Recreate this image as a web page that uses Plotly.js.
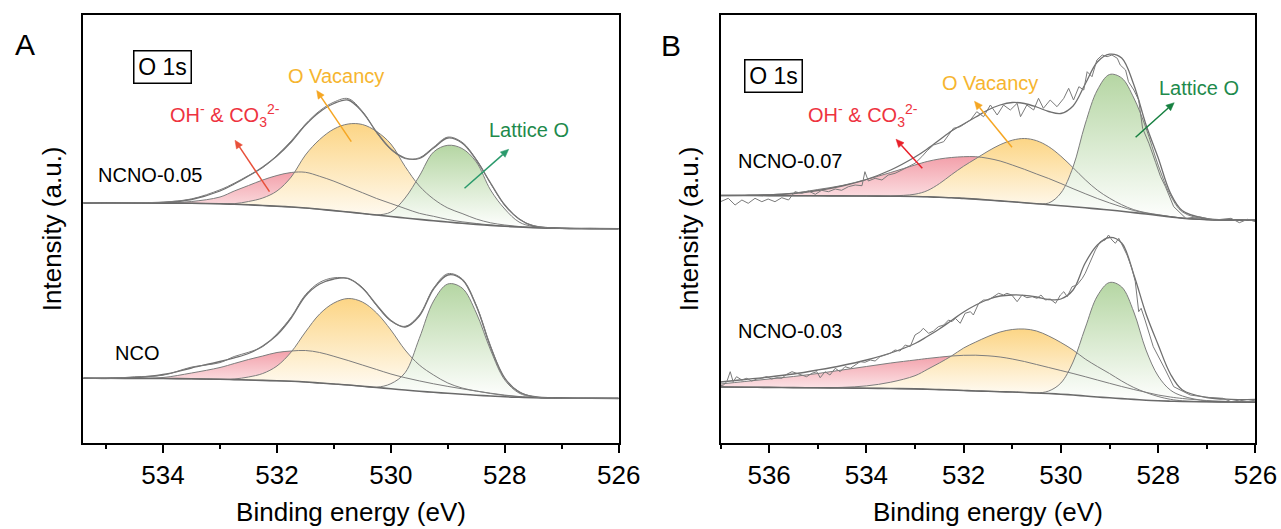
<!DOCTYPE html>
<html>
<head>
<meta charset="utf-8">
<script src="https://cdn.plot.ly/plotly-3.0.1.min.js"></script>
<style>
html,body{margin:0;padding:0;background:#fff;}
#chart{width:1281px;height:529px;}
</style>
</head>
<body>
<div id="chart"></div>
<script>
// ---------------- DATA (binding energy in eV, intensity in a.u.) ----------------
// Panel A common energy grid for the fitted curves
const energyA = [535.4, 535.0, 534.5, 534.0, 533.5, 533.0, 532.75, 532.5, 532.25, 532.0, 531.75, 531.5, 531.25, 531.0, 530.75, 530.5, 530.25, 530.0, 529.75, 529.5, 529.25, 529.0, 528.75, 528.5, 528.25, 528.0, 527.75, 527.5, 527.0, 526.5, 526.0];

// NCNO-0.05 (panel A, upper)
const ncno005Bg  = [239.7, 239.7, 239.7, 239.6, 239.4, 238.9, 238.4, 237.9, 237.2, 236.5, 235.7, 234.7, 233.4, 232.1, 230.7, 229.2, 227.7, 226.2, 224.7, 223.3, 221.9, 220.7, 219.4, 218.3, 217.3, 216.4, 215.7, 215.1, 214.4, 214.1, 214.0];
const ncno005OH  = [239.7, 239.7, 239.7, 239.9, 241.2, 245.7, 251.7, 257.2, 262.7, 267.2, 270.2, 270.4, 266.4, 261.5, 255.7, 250.0, 244.2, 239.2, 234.2, 229.4, 226.4, 223.2, 220.9, 219.2, 217.7, 216.6, 215.8, 215.1, 214.4, 214.1, 214.0];
const ncno005Vac = [239.7, 239.7, 239.7, 239.6, 239.4, 239.1, 239.0, 241.2, 244.7, 251.7, 265.7, 287.7, 303.2, 313.7, 318.7, 318.2, 311.2, 298.7, 276.2, 256.7, 243.7, 234.7, 229.2, 223.7, 219.9, 217.7, 216.2, 215.3, 214.4, 214.1, 214.0];
const ncno005Lat = [239.7, 239.7, 239.7, 239.6, 239.4, 238.9, 238.4, 237.9, 237.2, 236.5, 235.7, 234.7, 233.4, 232.1, 230.7, 229.2, 227.8, 230.7, 244.7, 266.7, 290.7, 297.4, 294.2, 280.7, 252.7, 233.7, 220.7, 216.2, 214.4, 214.1, 214.0];
const ncno005Fit = [239.7, 239.7, 239.7, 240.2, 243.2, 251.7, 258.7, 266.7, 275.7, 286.7, 300.7, 317.7, 330.7, 339.2, 342.7, 330.7, 310.7, 293.7, 284.7, 284.2, 294.7, 304.7, 299.7, 282.7, 259.7, 237.7, 223.7, 216.7, 214.4, 214.1, 214.0];
const ncno005Raw = [240.2, 239.4, 239.9, 240.6, 243.8, 252.9, 259.5, 267.2, 275.1, 287.4, 301.8, 318.5, 331.9, 340.6, 344.1, 331.4, 309.9, 293.2, 284.1, 284.9, 295.6, 305.6, 300.5, 283.2, 259.1, 237.2, 223.9, 217.2, 214.1, 214.3, 213.8];

// NCO (panel A, lower)
const ncoBg  = [64.4, 64.4, 64.3, 64.2, 63.9, 63.4, 63.1, 62.7, 62.3, 61.9, 61.4, 60.7, 59.7, 58.7, 57.7, 56.4, 55.2, 53.9, 52.7, 51.5, 50.4, 49.4, 48.4, 47.5, 46.7, 45.9, 45.4, 45.0, 44.6, 44.4, 44.3];
const ncoOH  = [64.4, 64.4, 64.5, 65.2, 69.7, 75.2, 79.2, 83.2, 86.7, 90.2, 91.7, 92.2, 90.2, 86.4, 82.2, 77.7, 73.2, 68.7, 65.0, 61.8, 58.9, 56.3, 53.9, 51.6, 49.5, 47.6, 46.2, 45.3, 44.6, 44.4, 44.3];
const ncoVac = [64.4, 64.4, 64.3, 64.2, 63.9, 63.4, 63.7, 65.7, 69.2, 76.7, 90.7, 110.7, 128.7, 139.7, 144.2, 140.7, 129.7, 112.7, 92.7, 77.7, 67.7, 59.7, 54.7, 51.7, 49.2, 47.2, 45.9, 45.2, 44.6, 44.4, 44.3];
const ncoLat = [64.4, 64.4, 64.3, 64.2, 63.9, 63.4, 63.1, 62.7, 62.3, 61.9, 61.4, 60.7, 59.7, 58.7, 57.7, 56.4, 55.5, 59.0, 70.0, 104.4, 141.7, 158.7, 154.7, 129.7, 92.7, 62.7, 49.7, 45.7, 44.6, 44.4, 44.3];
const ncoFit = [64.4, 64.4, 65.2, 68.2, 74.7, 81.2, 84.9, 89.2, 96.7, 107.7, 124.7, 146.7, 158.7, 163.7, 164.4, 154.7, 137.7, 122.2, 115.7, 126.7, 153.7, 167.7, 163.2, 136.7, 95.7, 64.7, 50.7, 46.2, 44.6, 44.4, 44.3];
const ncoRaw = [64.9, 64.0, 65.9, 67.5, 75.6, 80.1, 86.2, 90.4, 96.1, 108.9, 125.8, 148.0, 160.3, 164.9, 164.0, 155.3, 137.0, 121.6, 116.4, 127.9, 154.6, 169.0, 163.9, 137.5, 96.8, 64.1, 51.2, 46.0, 44.4, 44.6, 44.1];

// Panel B common energy grid for the fitted curves
const energyB = [537, 536.5, 536, 535.5, 535, 534.5, 534, 533.5, 533, 532.75, 532.5, 532.25, 532, 531.75, 531.5, 531.25, 531, 530.75, 530.5, 530.25, 530, 529.75, 529.5, 529.25, 529, 528.75, 528.5, 528.25, 528, 527.75, 527.5, 527, 526.5, 526];

// NCNO-0.07 (panel B, upper)
const ncno007Bg  = [247.2, 247.2, 247.1, 247.0, 246.9, 246.8, 246.7, 246.5, 246.2, 245.9, 245.4, 245.0, 244.3, 243.6, 242.7, 241.8, 240.9, 239.9, 239.0, 238.0, 237.0, 236.0, 234.9, 233.8, 232.7, 231.5, 230.1, 228.7, 227.2, 225.7, 224.4, 223.1, 222.7, 222.5];
const ncno007OH  = [247.2, 247.4, 248.0, 249.5, 253.2, 257.2, 263.2, 270.2, 277.7, 281.2, 283.7, 285.2, 286.0, 286.0, 284.4, 281.7, 277.7, 273.4, 268.7, 264.2, 259.2, 254.0, 249.0, 244.2, 239.8, 235.8, 232.2, 229.6, 227.8, 226.1, 224.6, 223.1, 222.7, 222.5];
const ncno007Vac = [247.2, 247.2, 247.1, 247.0, 246.9, 246.8, 246.7, 246.8, 248.5, 252.0, 259.0, 268.0, 276.5, 284.0, 291.5, 298.0, 302.5, 304.2, 302.0, 296.0, 286.5, 275.0, 263.0, 252.5, 244.5, 238.0, 233.0, 230.0, 228.0, 226.2, 224.6, 223.1, 222.7, 222.5];
const ncno007Lat = [247.2, 247.2, 247.1, 247.0, 246.9, 246.8, 246.7, 246.5, 246.2, 245.9, 245.4, 245.0, 244.3, 243.6, 242.7, 241.8, 240.9, 239.9, 239.0, 239.7, 249.7, 275.7, 318.7, 352.7, 368.2, 364.7, 344.7, 314.7, 277.7, 247.7, 230.7, 223.4, 222.7, 222.5];
const ncno007Fit = [247.2, 247.4, 247.9, 249.2, 252.2, 256.7, 263.2, 272.7, 285.7, 293.7, 302.7, 311.7, 318.7, 325.7, 332.7, 337.7, 340.2, 339.2, 335.7, 331.2, 329.2, 336.7, 358.7, 380.7, 388.5, 384.7, 358.0, 318.0, 285.0, 250.0, 232.0, 224.0, 222.8, 222.5];
const ncno007RawE = [537.0, 536.84, 536.70, 536.56, 536.43, 536.29, 536.15, 536.02, 535.88, 535.74, 535.60, 535.47, 535.33, 535.19, 535.05, 534.92, 534.78, 534.64, 534.51, 534.37, 534.23, 534.09, 534.03, 533.96, 533.82, 533.68, 533.55, 533.41, 533.27, 533.13, 533.00, 532.86, 532.75, 532.62, 532.41, 532.21, 532.07, 531.86, 531.73, 531.59, 531.45, 531.31, 531.18, 531.04, 530.90, 530.83, 530.70, 530.56, 530.46, 530.36, 530.22, 530.08, 529.94, 529.84, 529.74, 529.63, 529.53, 529.46, 529.36, 529.26, 529.15, 529.05, 528.95, 528.84, 528.78, 528.67, 528.61, 528.50, 528.40, 528.32, 528.19, 528.05, 527.95, 527.85, 527.68, 527.43, 527.17, 526.83, 526.50, 526.33, 526.16, 526.0];
const ncno007Raw  = [241, 244.4, 237.7, 242.7, 239.4, 244.4, 241, 243.7, 241, 245, 242.7, 251, 249.4, 251.7, 248.4, 252.4, 251, 253.7, 252.4, 256, 257.7, 257, 271, 261.7, 264.4, 262.7, 267.7, 269.4, 272.7, 276, 279.4, 286, 292, 297.7, 301, 314.4, 316, 322.7, 331, 326, 337.7, 327.7, 337.7, 332.7, 339.4, 326, 337.7, 332.7, 344.4, 334.4, 342.7, 336, 344.4, 354.4, 342.7, 356, 352.7, 371, 366, 382.7, 387.7, 386, 387.7, 384.4, 377.7, 372.7, 361, 352.7, 342.7, 314.4, 299.4, 280, 266, 256, 236, 224.4, 226, 222.7, 224.4, 220, 223.4, 221];

// NCNO-0.03 (panel B, lower)
const ncno003Bg  = [55.7, 55.5, 55.3, 55.1, 54.9, 54.7, 54.5, 54.2, 53.8, 53.5, 53.1, 52.7, 52.2, 51.7, 51.4, 51.0, 50.7, 50.2, 49.7, 49.2, 48.5, 47.7, 46.7, 45.7, 44.9, 44.1, 43.3, 42.5, 41.9, 41.5, 41.2, 40.9, 40.7, 40.5];
const ncno003OH  = [58.7, 61.2, 63.7, 66.2, 69.2, 72.7, 76.2, 79.7, 82.7, 84.2, 85.5, 86.7, 87.4, 87.5, 86.9, 85.7, 83.7, 81.2, 78.2, 75.2, 72.2, 69.2, 66.0, 62.7, 59.4, 56.2, 53.2, 50.4, 47.7, 45.7, 44.2, 42.2, 41.2, 40.7];
const ncno003Vac = [55.7, 55.5, 55.3, 55.1, 54.9, 55.3, 56.8, 60.5, 67.0, 73.2, 79.7, 86.7, 94.7, 100.7, 106.2, 110.7, 113.2, 113.7, 111.7, 106.7, 100.2, 92.7, 83.7, 76.2, 69.2, 61.7, 55.2, 50.2, 46.2, 43.4, 41.9, 40.9, 40.7, 40.5];
const ncno003Lat = [55.7, 55.5, 55.3, 55.1, 54.9, 54.7, 54.5, 54.2, 53.8, 53.5, 53.1, 52.7, 52.2, 51.7, 51.4, 51.0, 50.7, 50.2, 49.7, 51.7, 59.7, 80.7, 114.7, 146.7, 160.2, 155.7, 130.7, 92.7, 66.7, 52.7, 46.7, 41.7, 40.7, 40.5];
const ncno003Fit = [60.7, 63.2, 65.7, 68.7, 72.7, 77.2, 82.7, 89.7, 99.2, 106.2, 113.7, 122.2, 130.7, 137.7, 143.2, 146.7, 147.7, 147.4, 145.7, 143.2, 143.7, 152.7, 179.7, 197.7, 205.2, 199.7, 168.0, 129.0, 98.0, 69.0, 52.7, 45.2, 43.4, 43.2];
const ncno003RawE = [536.99, 536.94, 536.87, 536.80, 536.74, 536.67, 536.56, 536.46, 536.36, 536.25, 536.15, 536.05, 535.95, 535.84, 535.74, 535.64, 535.53, 535.43, 535.33, 535.23, 535.12, 535.02, 534.95, 534.85, 534.75, 534.64, 534.54, 534.44, 534.33, 534.23, 534.13, 534.03, 533.92, 533.82, 533.72, 533.61, 533.51, 533.41, 533.31, 533.20, 533.10, 533.00, 532.89, 532.83, 532.72, 532.62, 532.52, 532.41, 532.31, 532.24, 532.17, 532.07, 531.97, 531.86, 531.80, 531.69, 531.59, 531.49, 531.38, 531.28, 531.18, 531.11, 531.01, 530.90, 530.80, 530.70, 530.59, 530.49, 530.41, 530.32, 530.22, 530.11, 530.01, 529.94, 529.87, 529.77, 529.67, 529.56, 529.50, 529.43, 529.36, 529.29, 529.19, 529.09, 529.02, 528.95, 528.88, 528.81, 528.74, 528.64, 528.54, 528.47, 528.40, 528.35, 528.27, 528.10, 527.85, 527.68, 527.34, 527.00, 526.67, 526.50, 526.33, 526.16, 526.0];
const ncno003Raw  = [57.0, 57.7, 61, 71, 61, 66, 62.7, 64.4, 61.7, 63.7, 64.4, 66, 63.7, 65, 64.4, 68.4, 71, 69.4, 67.7, 66, 69.4, 71, 65, 71, 67.7, 74.4, 71, 76, 74.4, 77.7, 81, 80.4, 82.7, 81.7, 86, 87.7, 89.4, 92.7, 91.7, 97.7, 96, 107.7, 111, 114.4, 109.4, 111.7, 116, 117.7, 122.7, 121, 124.4, 119.4, 129.4, 131, 127.7, 139.4, 142.7, 142.7, 146, 149.4, 147.7, 149.4, 147.7, 141, 147.7, 145, 146, 144.4, 147.7, 142.7, 143.7, 139.4, 147.7, 151, 146, 156, 157.7, 164.4, 169.4, 177.7, 184.4, 192.7, 201, 202.7, 207.7, 202.7, 199.4, 204.4, 197.7, 187.7, 174.4, 161, 131, 134.4, 122.7, 96, 72.7, 56, 47.7, 45.4, 44.4, 41, 42.7, 41, 42.7];

// Axis ticks
const tickValsA = [534, 532, 530, 528, 526];
const minorValsA = [535, 533, 531, 529, 527];
const tickValsB = [536, 534, 532, 530, 528, 526];
const minorValsB = [537, 535, 533, 531, 529, 527];

// Labels
const sampleLabels = ['NCNO-0.05', 'NCO', 'NCNO-0.07', 'NCNO-0.03'];
const peakLabels = ['OH<sup>-</sup> & CO<sub>3</sub><sup>2-</sup>', 'O Vacancy', 'Lattice O'];

// ---------------- STYLE ----------------
const W = 1281, H = 529;
const fx = x => x / W;
const fy = y => 1 - y / H;
const FONT = 'Liberation Sans, Arial, Helvetica, sans-serif';
const FILL = {oh: '#f3a0aa', vac: '#fcd585', lat: '#b5d6a3'};

function spectrum(xa, ya, E, bg, comps, fit, rawE, raw, rawShape) {
  const base = {xaxis: xa, yaxis: ya, hoverinfo: 'skip', showlegend: false, mode: 'lines'};
  const t = [];
  comps.forEach(c => {
    t.push(Object.assign({}, base, {x: E, y: bg, line: {width: 0, shape: 'spline', color: 'rgba(0,0,0,0)'}}));
    t.push(Object.assign({}, base, {x: E, y: c.y, line: {width: 0, shape: 'spline', color: 'rgba(0,0,0,0)'},
      fill: 'tonexty', fillcolor: c.color,
      fillgradient: {type: 'vertical', colorscale: [[0, '#ffffff'], [1, c.color]]}}));
  });
  comps.forEach(c => t.push(Object.assign({}, base, {x: E, y: c.y, line: {color: '#7d7d7d', width: 1, shape: 'spline'}})));
  t.push(Object.assign({}, base, {x: E, y: bg, line: {color: '#6a6a6a', width: 1.6, shape: 'spline'}}));
  t.push(Object.assign({}, base, {x: E, y: fit, line: {color: '#6f6f6f', width: 1.3, shape: 'spline'}}));
  t.push(Object.assign({}, base, {x: rawE, y: raw, line: {color: '#7a7a7a', width: 1, shape: rawShape}}));
  return t;
}

const traces = [].concat(
  spectrum('x', 'y', energyA, ncno005Bg,
    [{y: ncno005OH, color: FILL.oh}, {y: ncno005Vac, color: FILL.vac}, {y: ncno005Lat, color: FILL.lat}],
    ncno005Fit, energyA, ncno005Raw, 'spline'),
  spectrum('x', 'y', energyA, ncoBg,
    [{y: ncoOH, color: FILL.oh}, {y: ncoVac, color: FILL.vac}, {y: ncoLat, color: FILL.lat}],
    ncoFit, energyA, ncoRaw, 'spline'),
  spectrum('x2', 'y2', energyB, ncno007Bg,
    [{y: ncno007OH, color: FILL.oh}, {y: ncno007Vac, color: FILL.vac}, {y: ncno007Lat, color: FILL.lat}],
    ncno007Fit, ncno007RawE, ncno007Raw, 'linear'),
  spectrum('x2', 'y2', energyB, ncno003Bg,
    [{y: ncno003OH, color: FILL.oh}, {y: ncno003Vac, color: FILL.vac}, {y: ncno003Lat, color: FILL.lat}],
    ncno003Fit, ncno003RawE, ncno003Raw, 'linear')
);

const frame = {showline: true, linecolor: '#000', linewidth: 2, mirror: true, showgrid: false, zeroline: false};
function xAxis(domain, range, ticks, minor, anchor) {
  return Object.assign({}, frame, {
    domain: domain, range: range, autorange: false, anchor: anchor,
    tickmode: 'array', tickvals: ticks, ticktext: ticks.map(String),
    ticks: 'outside', ticklen: 8, tickwidth: 2, tickcolor: '#000',
    tickfont: {family: FONT, size: 26, color: '#000'},
    minor: {tickmode: 'array', tickvals: minor, ticks: 'outside', ticklen: 4, tickwidth: 2, tickcolor: '#000'},
    title: {text: 'Binding energy (eV)', font: {family: FONT, size: 26, color: '#000'}, standoff: 14}
  });
}
function yAxis(anchor) {
  return Object.assign({}, frame, {
    domain: [fy(442.7), fy(15)], range: [0, 427.7], autorange: false, anchor: anchor,
    showticklabels: false, ticks: '',
    title: {text: 'Intensity (a.u.)', font: {family: FONT, size: 26, color: '#000'}, standoff: 12}
  });
}

function label(text, x, y, size, color, xanchor) {
  return {text: text, x: fx(x), y: fy(y), xref: 'paper', yref: 'paper', showarrow: false,
    xanchor: xanchor || 'center', yanchor: 'middle', font: {family: FONT, size: size, color: color}};
}
function box(text, x, y) {
  return {text: text, x: fx(x), y: fy(y), xref: 'paper', yref: 'paper', showarrow: false,
    width: 53, height: 28, borderpad: 1.5, borderwidth: 1.5, bordercolor: '#000', bgcolor: '#fff',
    font: {family: FONT, size: 23, color: '#000'}};
}
// arrows drawn as a line shape plus a filled triangular head (pixel geometry -> paper coords)
function arrowShapes(tx, ty, hx, hy, color) {
  const dx = hx - tx, dy = hy - ty, len = Math.hypot(dx, dy);
  const ux = dx / len, uy = dy / len, L = 8, hw = 3.6;
  const bx = hx - ux * L, by = hy - uy * L;
  const p1 = [bx - uy * hw, by + ux * hw], p2 = [bx + uy * hw, by - ux * hw];
  return [
    {type: 'line', xref: 'paper', yref: 'paper', x0: fx(tx), y0: fy(ty), x1: fx(bx), y1: fy(by),
      line: {color: color, width: 1.5}},
    {type: 'path', xref: 'paper', yref: 'paper',
      path: 'M ' + fx(hx) + ' ' + fy(hy) + ' L ' + fx(p1[0]) + ' ' + fy(p1[1]) + ' L ' + fx(p2[0]) + ' ' + fy(p2[1]) + ' Z',
      fillcolor: color, line: {color: color, width: 0.5}}
  ];
}

const RED = '#ee3340', ORANGE = '#f6b530', GREEN = '#1e8a4c';
const annotations = [
  label('A', 24.6, 44.5, 30, '#000'),
  label('B', 670.8, 45.5, 30, '#000'),
  box('O 1s', 133.4, 49.7),
  box('O 1s', 773.3, 59.5),
  label(sampleLabels[0], 149.7, 175, 20, '#000'),
  label(sampleLabels[1], 136.7, 352.5, 20, '#000'),
  label(sampleLabels[2], 789.5, 160.8, 20, '#000'),
  label(sampleLabels[3], 789.5, 330.8, 20, '#000'),
  label(peakLabels[0], 168, 116, 20, RED, 'left'),
  label(peakLabels[1], 336.3, 75.5, 20, ORANGE),
  label(peakLabels[2], 528.8, 130, 20, GREEN),
  label(peakLabels[0], 806, 116, 20, RED, 'left'),
  label(peakLabels[1], 990, 82.5, 20, ORANGE),
  label(peakLabels[2], 1199, 87.5, 20, GREEN)
];
const shapes = [].concat(
  arrowShapes(269.5, 191.7, 235, 140.3, '#e8503a'),
  arrowShapes(351.3, 141.7, 316.7, 90.5, '#f5a623'),
  arrowShapes(464.5, 188.3, 508.7, 149.3, '#2b9a6c'),
  arrowShapes(922.3, 168.3, 896, 139.2, '#e8202a'),
  arrowShapes(1012, 147.2, 974.5, 101.3, '#f5a623'),
  arrowShapes(1135.6, 137.3, 1174.2, 102.7, '#168040')
);

const layout = {
  width: W, height: H, margin: {l: 0, r: 0, t: 0, b: 0},
  paper_bgcolor: '#fff', plot_bgcolor: '#fff', showlegend: false,
  font: {family: FONT, color: '#000'},
  xaxis: xAxis([fx(83.3), fx(618.7)], [535.4, 526], tickValsA, minorValsA, 'y'),
  yaxis: yAxis('x'),
  xaxis2: xAxis([fx(720.5), fx(1255.4)], [537, 526], tickValsB, minorValsB, 'y2'),
  yaxis2: yAxis('x2'),
  annotations: annotations,
  shapes: shapes
};

Plotly.newPlot('chart', traces, layout, {staticPlot: true, displayModeBar: false});
</script>
</body>
</html>
